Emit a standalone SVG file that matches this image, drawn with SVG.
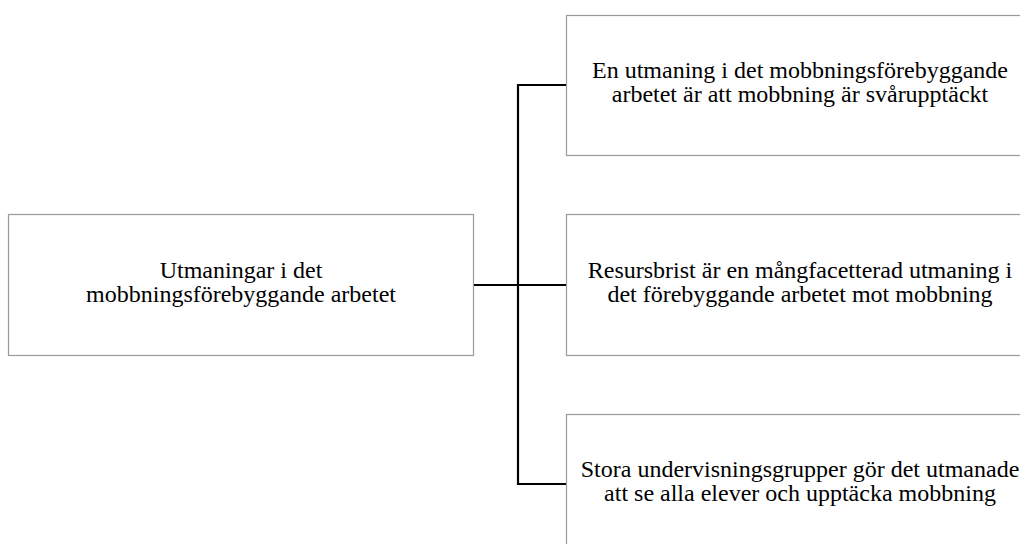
<svg xmlns="http://www.w3.org/2000/svg" width="1020" height="544" viewBox="0 0 1020 544">
<style>
.box{fill:#fff;stroke:#9a9a9a;stroke-width:1.2}
.t{font-family:"Liberation Serif","Times New Roman",serif;font-size:24px;fill:#000;text-anchor:middle}
.c{fill:none;stroke:#000;stroke-width:2.2}
</style>
<rect width="1020" height="544" fill="#fff"/>
<g id="connectors">
<path class="c" d="M473 285 H566"/>
<path class="c" d="M566 85 H518 V484 H566"/>
</g>
<g id="root">
<rect class="box" x="8.5" y="214.5" width="465" height="141"/>
<text class="t" x="241" y="278">Utmaningar i det</text>
<text class="t" x="241" y="302">mobbningsförebyggande arbetet</text>
</g>
<g id="n1">
<rect class="box" x="566.5" y="15.5" width="470" height="140"/>
<text class="t" x="800" y="78">En utmaning i det mobbningsförebyggande</text>
<text class="t" x="800" y="102">arbetet är att mobbning är svårupptäckt</text>
</g>
<g id="n2">
<rect class="box" x="566.5" y="214.5" width="470" height="141"/>
<text class="t" x="800" y="278">Resursbrist är en mångfacetterad utmaning i</text>
<text class="t" x="800" y="302">det förebyggande arbetet mot mobbning</text>
</g>
<g id="n3">
<rect class="box" x="566.5" y="414.5" width="470" height="140"/>
<text class="t" x="800" y="477">Stora undervisningsgrupper gör det utmanade</text>
<text class="t" x="800" y="501">att se alla elever och upptäcka mobbning</text>
</g>
</svg>
